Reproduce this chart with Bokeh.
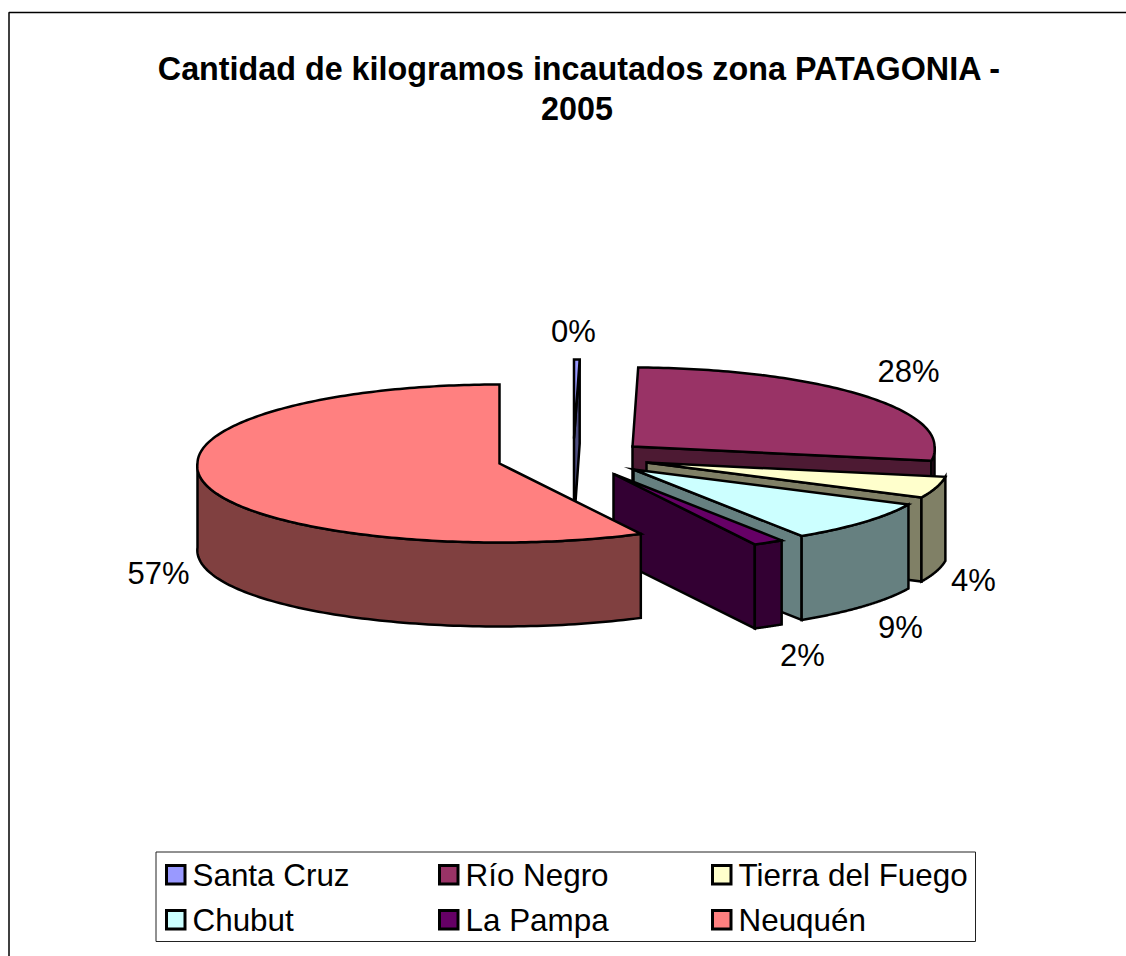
import numpy as np
from bokeh.core.properties import value
from bokeh.embed import file_html
from bokeh.models import ColumnDataSource, Range1d
from bokeh.plotting import figure
from bokeh.resources import INLINE

# --- data
categories = ["Santa Cruz", "Río Negro", "Tierra del Fuego", "Chubut", "La Pampa", "Neuquén"]
percent_values = [0.3, 27.6, 4.4, 8.6, 1.6, 57.49]
percent_labels = ["0%", "28%", "4%", "9%", "2%", "57%"]
title_lines = ["Cantidad de kilogramos incautados zona PATAGONIA -", "2005"]

# --- styling / layout
top_colors = ["#9999FF", "#993366", "#FFFFCC", "#CCFFFF", "#660066", "#FF8080"]
wall_colors = ["#4D4D80", "#4D1A33", "#808066", "#668080", "#330033", "#804040"]
FONT = "Liberation Sans"
WIDTH, HEIGHT = 1126, 956
CX, CY, RX, RY, DEPTH = 499, 463, 302, 79, 84
PERSPECTIVE = 0.035  # the front of the 3-D pie is drawn a little wider
explode = [(74.5, -25), (133, -17), (147, -1), (134, 6), (114, 10.5), (0, 0)]
draw_order = [1, 0, 2, 3, 4, 5]
label_pos = [(573, 331), (908, 371), (973, 580), (900, 627), (802, 655), (158, 573)]

p = figure(width=WIDTH, height=HEIGHT, output_backend="svg", toolbar_location=None,
           x_range=Range1d(0, WIDTH), y_range=Range1d(HEIGHT, 0),
           min_border=0, outline_line_color=None, background_fill_color="white")
p.axis.visible = False
p.grid.visible = False

# chart-area frame
p.line([8.5, 8.5, WIDTH], [HEIGHT, 12, 12], line_color="black", line_width=1.5)

# pie geometry from the values
shares = np.array(percent_values, dtype=float)
edges = np.concatenate([[0.0], np.cumsum(shares) / shares.sum()]) * 2 * np.pi


def rim(cx, cy, t):
    widen = 1 + PERSPECTIVE * np.maximum(0.0, -np.cos(t))
    return cx + RX * np.sin(t) * widen, cy - RY * np.cos(t)


xs, ys, fills = [], [], []
for i in draw_order:
    cx, cy = CX + explode[i][0], CY + explode[i][1]
    a0, a1 = edges[i], edges[i + 1]
    # front radial wall at the slice's end edge
    if 0 < a1 < np.pi:
        ex, ey = rim(cx, cy, a1)
        xs.append([cx, ex, ex, cx])
        ys.append([cy, ey, ey + DEPTH, cy + DEPTH])
        fills.append(wall_colors[i])
    # outer curved wall (the part facing the viewer)
    w0, w1 = max(a0, np.pi / 2), min(a1, 3 * np.pi / 2)
    if w1 > w0:
        t = np.linspace(w0, w1, 100)
        rx, ry = rim(cx, cy, t)
        xs.append(np.concatenate([rx, rx[::-1]]).tolist())
        ys.append(np.concatenate([ry, ry[::-1] + DEPTH]).tolist())
        fills.append(wall_colors[i])
    # top face
    t = np.linspace(a0, a1, max(3, int((a1 - a0) * 60)))
    rx, ry = rim(cx, cy, t)
    xs.append([cx] + rx.tolist())
    ys.append([cy] + ry.tolist())
    fills.append(top_colors[i])

p.patches("xs", "ys", fill_color="fills", line_color="black", line_width=2.5, line_join="miter",
          source=ColumnDataSource(dict(xs=xs, ys=ys, fills=fills)))

# percentage labels
p.text([q[0] for q in label_pos], [q[1] for q in label_pos], text=percent_labels,
       text_font=value(FONT), text_font_size="31px", text_color="black",
       text_align="center", text_baseline="middle")

# title
p.text([579, 576.5], [68, 108], text=title_lines, text_font=value(FONT), text_font_size="32.3px",
       text_font_style="bold", text_color="black", text_align="center", text_baseline="middle")

# legend
p.quad(left=[155.5], right=[975], top=[851.5], bottom=[941], fill_color="white",
       line_color="#222222", line_width=1)
col_x = [166, 439, 712]
row_y = [865, 910]
sw_l, sw_t, txt_x, txt_y = [], [], [], []
for k in range(len(categories)):
    c, r = k % 3, k // 3
    sw_l.append(col_x[c])
    sw_t.append(row_y[r])
    txt_x.append(col_x[c] + 26)
    txt_y.append(row_y[r] + 9.5)
p.quad(left=sw_l, right=[v + 18.5 for v in sw_l], top=sw_t, bottom=[v + 18.5 for v in sw_t],
       fill_color=top_colors, line_color="black", line_width=3, line_join="miter")
p.text(txt_x, txt_y, text=categories, text_font=value(FONT), text_font_size="31.4px",
       text_color="black", text_align="left", text_baseline="middle")

open("out.html", "w").write(file_html(p, INLINE))
